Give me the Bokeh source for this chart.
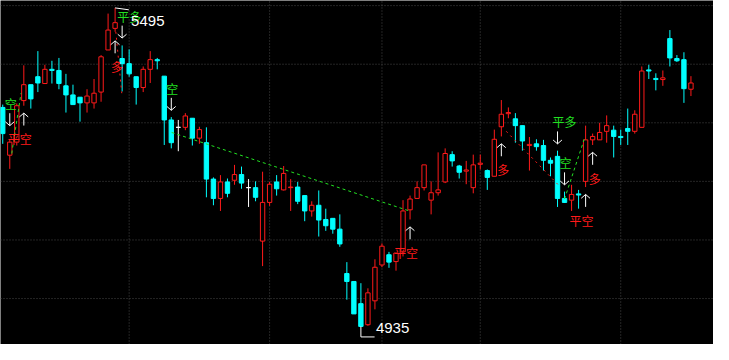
from bokeh.plotting import figure
from bokeh.models import ColumnDataSource, Range1d
from bokeh.core.properties import value
from bokeh.embed import file_html
from bokeh.resources import INLINE

# ---- candle data ----
opens = [5320, 5236, 5259, 5332, 5360, 5374, 5362, 5387, 5385, 5358,
         5342, 5338, 5328, 5328, 5347, 5421, 5459, 5406, 5397, 5374,
         5355, 5387, 5404, 5375, 5298, 5285, 5285, 5301, 5266, 5258,
         5194, 5160, 5189, 5192, 5202, 5179, 5179, 5085, 5153, 5189,
         5175, 5179, 5180, 5165, 5138, 5148, 5123, 5125, 5106, 5028,
         5014, 4975, 4938, 4980, 5043, 5061, 5049, 5066, 5140, 5160,
         5179, 5157, 5170, 5189, 5237, 5217, 5208, 5179, 5220, 5209,
         5199, 5286, 5309, 5300, 5288, 5253, 5256, 5253, 5227, 5234,
         5160, 5157, 5168, 5190, 5263, 5263, 5278, 5280, 5269, 5283,
         5278, 5285, 5386, 5371, 5369, 5441, 5406, 5404, 5352]
highs = [5325, 5263, 5327, 5394, 5360, 5419, 5395, 5402, 5407, 5379,
         5360, 5338, 5352, 5370, 5412, 5485, 5495, 5429, 5422, 5374,
         5392, 5419, 5407, 5375, 5303, 5298, 5310, 5301, 5286, 5285,
         5197, 5201, 5195, 5219, 5216, 5194, 5190, 5207, 5189, 5201,
         5217, 5194, 5189, 5165, 5155, 5174, 5142, 5125, 5132, 5048,
         5014, 5011, 5002, 5053, 5081, 5066, 5064, 5157, 5165, 5190,
         5219, 5190, 5241, 5248, 5243, 5219, 5226, 5237, 5237, 5211,
         5281, 5333, 5320, 5310, 5288, 5268, 5264, 5263, 5232, 5244,
         5172, 5184, 5175, 5288, 5274, 5293, 5306, 5288, 5281, 5318,
         5315, 5392, 5395, 5380, 5385, 5456, 5412, 5417, 5375]
lows = [5256, 5212, 5253, 5323, 5318, 5347, 5362, 5362, 5352, 5311,
        5325, 5295, 5311, 5318, 5330, 5421, 5453, 5348, 5374, 5325,
        5347, 5363, 5387, 5254, 5248, 5243, 5280, 5253, 5256, 5162,
        5148, 5138, 5162, 5184, 5177, 5145, 5155, 5041, 5147, 5165,
        5174, 5138, 5150, 5120, 5128, 5093, 5103, 5098, 5075, 4982,
        4957, 4935, 4936, 4965, 5039, 5038, 5033, 5058, 5123, 5160,
        5174, 5132, 5165, 5187, 5216, 5195, 5185, 5169, 5211, 5175,
        5199, 5269, 5301, 5258, 5244, 5209, 5244, 5209, 5199, 5145,
        5152, 5138, 5142, 5180, 5254, 5263, 5258, 5232, 5254, 5254,
        5274, 5285, 5370, 5350, 5358, 5392, 5400, 5328, 5340]
closes = [5274, 5259, 5323, 5360, 5335, 5363, 5387, 5385, 5362, 5342,
          5325, 5328, 5340, 5345, 5409, 5456, 5469, 5397, 5379, 5355,
          5387, 5404, 5402, 5298, 5258, 5285, 5305, 5266, 5281, 5194,
          5160, 5189, 5169, 5202, 5187, 5179, 5162, 5153, 5185, 5177,
          5204, 5180, 5155, 5138, 5148, 5122, 5112, 5106, 5080, 5014,
          4957, 4935, 4994, 5039, 5076, 5048, 5064, 5138, 5159, 5179,
          5219, 5170, 5175, 5239, 5226, 5206, 5210, 5219, 5222, 5197,
          5264, 5308, 5311, 5288, 5261, 5255, 5251, 5227, 5222, 5160,
          5153, 5167, 5166, 5263, 5269, 5276, 5288, 5269, 5267, 5278,
          5308, 5384, 5384, 5369, 5372, 5407, 5402, 5353, 5363]

# month separators (candle index) and horizontal price grid levels
month_breaks = [18, 38, 54, 68, 88]
price_levels = [5499, 5396, 5293, 5190, 5087, 4984]

# trading signals: candle index, label, arrow tip price
sig_idx = [1, 3, 17, 16, 24, 58, 71, 79, 80, 84, 83]
sig_text = ["空", "平空", "平多", "多", "空", "平空", "多", "平多", "空", "多", "平空"]
sig_tip = [5288, 5310, 5442, 5437, 5315, 5110, 5256, 5256, 5184, 5241, 5167]

# dashed trade connection lines (index, price)
trade_x0 = [1.28, 24.05, 80.0, 71.7, 16.1]
trade_y0 = [5239, 5276, 5159, 5278, 5453]
trade_x1 = [2.6, 57.9, 82.8, 79.1, 16.95]
trade_y1 = [5345, 5138, 5264, 5184, 5345]
trade_side = ["short", "short", "short", "long", "long"]

# extreme marks
hi_idx, hi_val = 16, 5495
lo_idx, lo_val = 51, 4935

# ---- styling / geometry ----
RED = "#ff1a1a"
CYAN = "#00ffff"
WHITE = "#ffffff"
GREEN = "#22e022"
GRID = "#484848"
PX = 1.68          # price per reference pixel
IX = 1 / 7.18      # index units per reference pixel
X0, X1 = -2.3 * IX, (729 - 2.3) * IX
Y0, Y1 = 5508 - 360 * PX, 5508

p = figure(width=713, height=344, output_backend="svg", toolbar_location=None,
           x_range=Range1d(X0, X1), y_range=Range1d(Y0, Y1),
           x_axis_location=None, y_axis_location=None, min_border=0)
p.background_fill_color = "black"
p.border_fill_color = "black"
p.outline_line_color = None
p.xgrid.visible = False
p.ygrid.visible = False

# dotted grid
p.segment(x0=month_breaks, y0=[Y0] * len(month_breaks), x1=month_breaks,
          y1=[Y1] * len(month_breaks), line_color=GRID, line_dash="1 2", line_width=1)
p.segment(x0=[X0] * len(price_levels), y0=price_levels, x1=[X1] * len(price_levels),
          y1=price_levels, line_color=GRID, line_dash="1 2", line_width=1)

xs = list(range(len(opens)))
cols, fills, tops, bots = [], [], [], []
for o, c in zip(opens, closes):
    if c > o:
        cols.append(RED); fills.append("black")
    elif c < o:
        cols.append(CYAN); fills.append(CYAN)
    else:
        cols.append(WHITE); fills.append(WHITE)
    tops.append(max(o, c)); bots.append(min(o, c))
src = ColumnDataSource(dict(x=xs, h=highs, l=lows, top=tops, bot=bots,
                            col=cols, fill=fills))
p.segment(x0="x", y0="h", x1="x", y1="l", line_color="col", line_width=1, source=src)
p.vbar(x="x", width=0.62, top="top", bottom="bot", fill_color="fill",
       line_color="col", line_width=1, source=src)

# dashed trade lines
for x0, y0, x1, y1, s in zip(trade_x0, trade_y0, trade_x1, trade_y1, trade_side):
    if s == "short":
        p.line([x0, x1], [y0, y1], line_color=GREEN, line_dash="3 3", line_width=1)
    else:
        p.line([x0, x1], [y0, y1], line_color=RED, line_dash="2 4", line_width=1)

# signal arrows and labels
for i, t, tip in zip(sig_idx, sig_text, sig_tip):
    down = t in ("空", "平多")
    col = GREEN if down else RED
    if down:
        tail = tip + 13 * PX
        hy = tip + 4 * PX
        p.text(x=[i], y=[tail + 1 * PX], text=[t], text_color=col,
               text_font=value("Noto Sans CJK SC"), text_font_size="12px",
               text_align="left", text_baseline="bottom", x_offset=-5)
    else:
        tail = tip - 13 * PX
        hy = tip - 4 * PX
        p.text(x=[i], y=[tail - 5 * PX], text=[t], text_color=col,
               text_font=value("Noto Sans CJK SC"), text_font_size="12px",
               text_align="right", text_baseline="top", x_offset=8)
    p.segment(x0=[i, i, i], y0=[tail, tip, tip],
              x1=[i, i - 4.5 * IX, i + 4.5 * IX], y1=[tip, hy, hy],
              line_color=WHITE, line_width=1)

# high / low marks
p.line([hi_idx, hi_idx + 14 * IX], [hi_val, hi_val - 2 * PX], line_color=WHITE, line_width=1)
p.text(x=[hi_idx], y=[hi_val - 14 * PX], text=[str(hi_val)], text_color=WHITE,
       text_font=value("Liberation Sans"), text_font_size="15px",
       text_align="left", text_baseline="middle", x_offset=16)
p.line([lo_idx, lo_idx, lo_idx + 14 * IX],
       [lo_val, lo_val - 11 * PX, lo_val - 11 * PX], line_color=WHITE, line_width=1)
p.text(x=[lo_idx], y=[lo_val - 2 * PX], text=[str(lo_val)], text_color=WHITE,
       text_font=value("Liberation Sans"), text_font_size="15px",
       text_align="left", text_baseline="middle", x_offset=15)

open("out.html", "w").write(file_html(p, INLINE))
